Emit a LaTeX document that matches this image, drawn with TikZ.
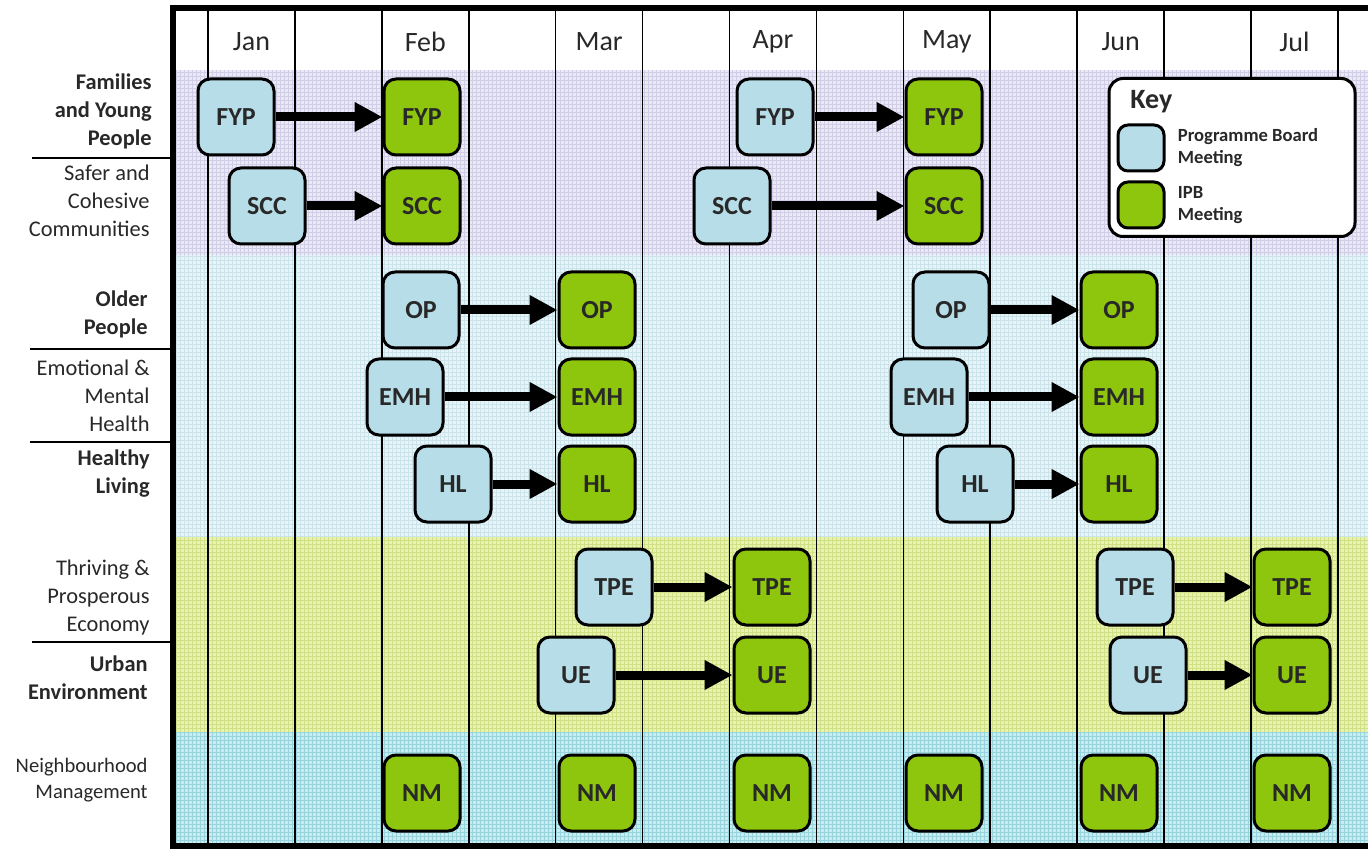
\documentclass[tikz,border=0pt]{standalone}
\usepackage{fontspec}
\setmainfont{Carlito}
\usetikzlibrary{arrows.meta, positioning}
\definecolor{boardblue}{RGB}{183,221,232}
\definecolor{ipbgreen}{RGB}{142,198,14}
\definecolor{inkgrey}{RGB}{40,40,40}
\definecolor{bandlilac}{RGB}{234,233,245}
\definecolor{gridlilac}{RGB}{208,206,230}
\definecolor{bandsky}{RGB}{232,244,248}
\definecolor{gridsky}{RGB}{203,228,236}
\definecolor{bandlime}{RGB}{234,242,176}
\definecolor{gridlime}{RGB}{208,224,134}
\definecolor{bandteal}{RGB}{200,236,240}
\definecolor{gridteal}{RGB}{152,212,222}

\begin{document}
\begin{tikzpicture}[x=0.5pt, y=-0.5pt,
    meeting/.style={draw=black, line width=1.5pt, rounded corners=6pt, minimum width=38pt, minimum height=38pt, inner sep=0pt, text=inkgrey, font=\fontsize{13}{15}\selectfont\bfseries},
    board/.style={meeting, fill=boardblue},
    ipb/.style={meeting, fill=ipbgreen},
    arrow/.style={-{Triangle[length=14pt, width=14pt]}, line width=4.5pt, black},
    theme/.style={anchor=east, align=right, inner sep=0pt, text=inkgrey, font=\fontsize{11.2}{14}\selectfont},
    month/.style={text=inkgrey, font=\fontsize{14}{16}\selectfont},
    divider/.style={line width=0.7pt, black},
    colline/.style={line width=0.8pt, black},
    swatch/.style={draw=black, line width=1.5pt, rounded corners=5pt, minimum size=23pt, inner sep=0pt},
    keytext/.style={anchor=west, align=left, inner sep=0pt, text=inkgrey, font=\fontsize{9.3}{11}\selectfont\bfseries}
]
\useasboundingbox (0,0) rectangle (1368,849);

% coloured bands with fine grid
\fill[bandlilac] (176,70) rectangle (1368,255);
\draw[gridlilac, line width=0.25pt, step=2pt] (176,70) grid (1368,255);
\fill[bandsky] (176,255) rectangle (1368,537);
\draw[gridsky, line width=0.25pt, step=2pt] (176,255) grid (1368,537);
\fill[bandlime] (176,537) rectangle (1368,732);
\draw[gridlime, line width=0.25pt, step=2pt] (176,537) grid (1368,732);
\fill[bandteal] (176,732) rectangle (1368,846);
\draw[gridteal, line width=0.25pt, step=2pt] (176,732) grid (1368,846);

% columns and months
\foreach \i in {0,...,13}
    \draw[colline] ({208+86.92*\i},8) -- ({208+86.92*\i},846);
\foreach \m [count=\k from 0] in {Jan,Feb,Mar,Apr,May,Jun,Jul}
    \node[month] (m\m) at ({208+86.92*(2*\k+0.5)},42) {\m};

% frame
\draw[line width=3pt] (1370,8) -- (173,8) -- (173,846) -- (1370,846);

% themes
\node[theme, font=\fontsize{11.2}{14}\selectfont\bfseries] (lblFYP) at (152,111) {Families\\and Young\\People};
\node[theme] (lblSCC) at (150,201) {Safer and\\Cohesive\\Communities};
\node[theme, font=\fontsize{11.2}{14}\selectfont\bfseries] (lblOP) at (148,314) {Older\\People};
\node[theme] (lblEMH) at (150,396) {Emotional \&\\Mental\\Health};
\node[theme, font=\fontsize{11.2}{14}\selectfont\bfseries] (lblHL) at (150,474) {Healthy\\Living};
\node[theme] (lblTPE) at (150,598) {Thriving \&\\Prosperous\\Economy};
\node[theme, font=\fontsize{11.2}{14}\selectfont\bfseries] (lblUE) at (148,678) {Urban\\Environment};
\node[theme, font=\fontsize{10.3}{13}\selectfont] (lblNM) at (148,780) {Neighbourhood\\Management};
\draw[divider] (32,158) -- (170,158);
\draw[divider] (30,349) -- (170,349);
\draw[divider] (30,442) -- (170,442);
\draw[divider] (32,642) -- (170,642);

% meetings
\node[board] (fypJan) at (236,117) {FYP};
\node[ipb] (fypFeb) at (422,117) {FYP};
\node[board] (fypApr) at (775,117) {FYP};
\node[ipb] (fypMay) at (944,117) {FYP};
\node[board] (sccJan) at (267,206) {SCC};
\node[ipb] (sccFeb) at (422,206) {SCC};
\node[board] (sccApr) at (732,206) {SCC};
\node[ipb] (sccMay) at (944,206) {SCC};
\node[board] (opFeb) at (421,310) {OP};
\node[ipb] (opMar) at (597,310) {OP};
\node[board] (opMay) at (951,310) {OP};
\node[ipb] (opJun) at (1119,310) {OP};
\node[board] (emhFeb) at (405,397) {EMH};
\node[ipb] (emhMar) at (597,397) {EMH};
\node[board] (emhMay) at (929,397) {EMH};
\node[ipb] (emhJun) at (1119,397) {EMH};
\node[board] (hlFeb) at (453,484) {HL};
\node[ipb] (hlMar) at (597,484) {HL};
\node[board] (hlMay) at (975,484) {HL};
\node[ipb] (hlJun) at (1119,484) {HL};
\node[board] (tpeMar) at (614,587) {TPE};
\node[ipb] (tpeApr) at (772,587) {TPE};
\node[board] (tpeJun) at (1135,587) {TPE};
\node[ipb] (tpeJul) at (1292,587) {TPE};
\node[board] (ueMar) at (576,675) {UE};
\node[ipb] (ueApr) at (772,675) {UE};
\node[board] (ueJun) at (1148,675) {UE};
\node[ipb] (ueJul) at (1292,675) {UE};
\foreach \x [count=\n] in {422,597,772,944,1119,1292}
    \node[ipb] (nm\n) at (\x,793) {NM};

\foreach \a/\b in {fypJan/fypFeb, fypApr/fypMay, sccJan/sccFeb, sccApr/sccMay,
                   opFeb/opMar, opMay/opJun, emhFeb/emhMar, emhMay/emhJun,
                   hlFeb/hlMar, hlMay/hlJun, tpeMar/tpeApr, tpeJun/tpeJul,
                   ueMar/ueApr, ueJun/ueJul}
    \draw[arrow] (\a.east) -- (\b.west);

% key
\node[draw=black, line width=1.5pt, fill=white, rounded corners=7pt, minimum width=123pt, minimum height=79pt] (key) at (1232,157.5) {};
\node[anchor=west, inner sep=0pt, text=inkgrey, font=\fontsize{14}{16}\selectfont\bfseries] (keyTitle) at (1130,102) {Key};
\node[swatch, fill=boardblue] (keyBoard) at (1141,148) {};
\node[swatch, fill=ipbgreen] (keyIPB) at (1141,205) {};
\node[keytext, right=6pt of keyBoard] (keyBoardText) {Programme Board\\Meeting};
\node[keytext, right=6pt of keyIPB] (keyIPBText) {IPB\\Meeting};
\end{tikzpicture}
\end{document}
